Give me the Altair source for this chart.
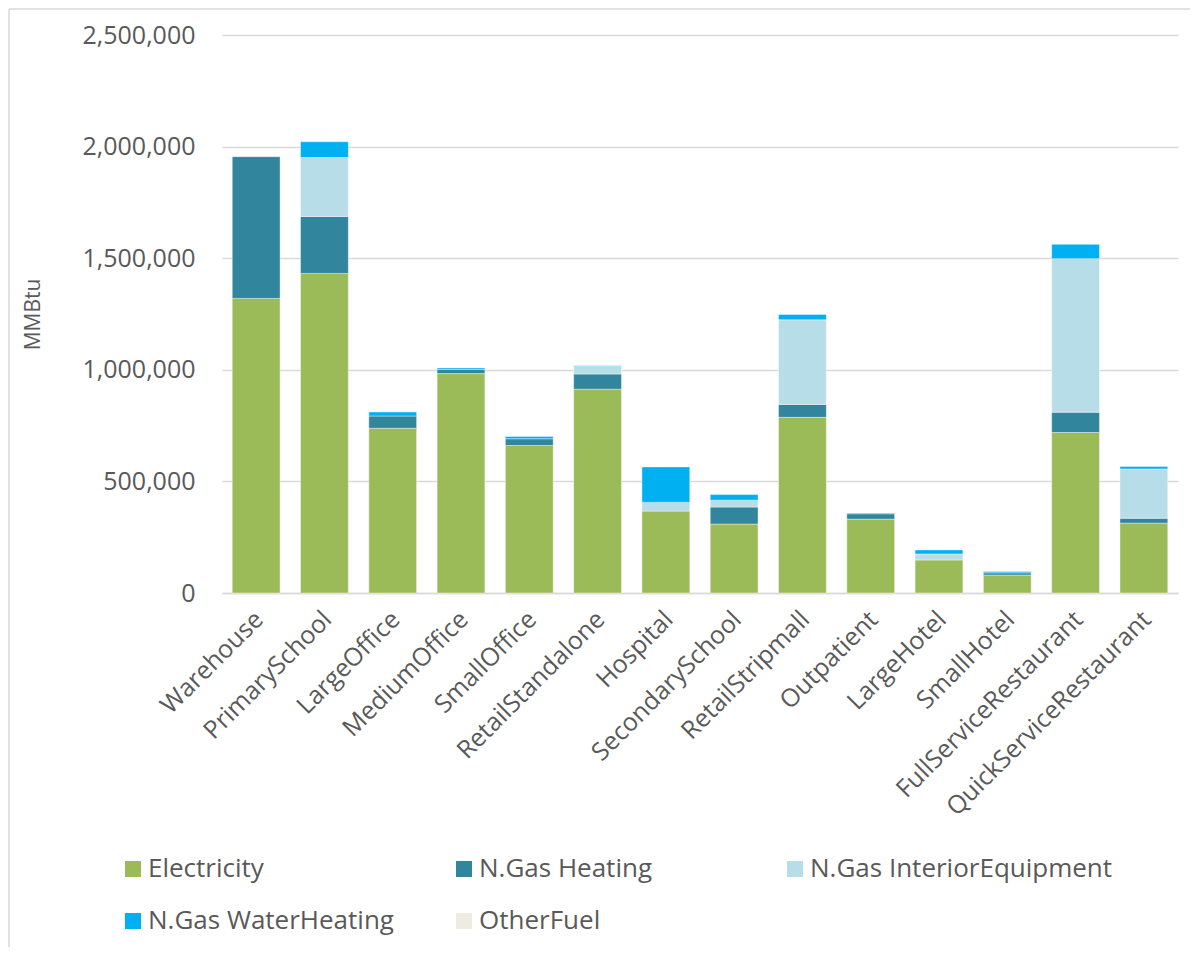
import altair as alt
import pandas as pd

categories = ["Warehouse", "PrimarySchool", "LargeOffice", "MediumOffice", "SmallOffice",
              "RetailStandalone", "Hospital", "SecondarySchool", "RetailStripmall", "Outpatient",
              "LargeHotel", "SmallHotel", "FullServiceRestaurant", "QuickServiceRestaurant"]
series = ["Electricity", "N.Gas Heating", "N.Gas InteriorEquipment", "N.Gas WaterHeating", "OtherFuel"]
colors = ["#9BBB59", "#31859C", "#B7DEE8", "#00B0F0", "#EEECE1"]

electricity = [1320000, 1432000, 738000, 983000, 661000, 913000, 367000, 309000, 787000, 331000, 148000, 80500, 719000, 313000]
gas_heating = [635000, 255000, 55000, 18000, 30000, 68000, 0, 76000, 58000, 24000, 0, 10000, 91000, 22000]
gas_interior = [0, 264000, 0, 0, 0, 34000, 39000, 31000, 379000, 0, 27000, 0, 688000, 221000]
gas_water = [0, 71000, 18000, 7000, 10000, 3000, 159000, 25000, 24000, 3000, 18000, 6000, 64000, 11000]
other_fuel = [0, 0, 0, 0, 0, 0, 0, 0, 0, 0, 0, 0, 0, 0]

y_ticks = [0, 500000, 1000000, 1500000, 2000000, 2500000]

rows = []
for si, (name, vals) in enumerate(zip(series, [electricity, gas_heating, gas_interior, gas_water, other_fuel])):
    for c, v in zip(categories, vals):
        if v > 0:
            rows.append({"Building": c, "Fuel": name, "Value": v, "order": si})
df = pd.DataFrame(rows)

TXT = "#595959"
GRID = "#D9D9D9"
FONT = "Open Sans"

bars = alt.Chart(df).mark_bar(stroke="white", strokeWidth=0.8, strokeOpacity=0.5).encode(
    x=alt.X("Building:N", sort=categories,
            scale=alt.Scale(paddingInner=0.3, paddingOuter=0.15),
            axis=alt.Axis(title=None, labelAngle=-45, labelAlign="right", labelBaseline="middle",
                          labelFontSize=25, labelFont=FONT, labelColor=TXT, labelPadding=22,
                          labelOffset=3, labelLimit=0, ticks=False, domainColor=GRID,
                          domainWidth=1.5, grid=False)),
    y=alt.Y("Value:Q", stack="zero",
            scale=alt.Scale(domain=[0, 2500000], nice=False),
            axis=alt.Axis(title="MMBtu", values=y_ticks, format=",d", ticks=False, domain=False,
                          labelFontSize=25, labelFont=FONT, labelColor=TXT, labelPadding=27,
                          gridColor=GRID, gridWidth=1.5,
                          titleFontSize=21, titleFont=FONT, titleColor=TXT, titleFontWeight="normal",
                          titleAngle=-90, titleX=-189, titleY=279, titleAlign="center",
                          titleBaseline="middle")),
    color=alt.Color("Fuel:N",
                    scale=alt.Scale(domain=series, range=colors),
                    legend=alt.Legend(title=None, orient="none", legendX=-102, legendY=821,
                                      direction="horizontal", columns=3, gridAlign="all",
                                      columnPadding=0, rowPadding=26, symbolType="square",
                                      symbolSize=256, symbolStrokeWidth=0, labelFontSize=26,
                                      labelFont=FONT, labelColor=TXT, labelOffset=2, padding=0,
                                      labelLimit=500)),
    order=alt.Order("order:Q", sort="ascending"),
)

frame_df = pd.DataFrame({"a": [0]})
left_line = alt.Chart(frame_df).mark_rule(color=GRID, strokeWidth=1.5).encode(
    x=alt.value(-213), y=alt.value(-26), y2=alt.value(960))
top_line = alt.Chart(frame_df).mark_rule(color=GRID, strokeWidth=1.5).encode(
    x=alt.value(-213), x2=alt.value(990), y=alt.value(-26))

chart = alt.layer(bars, left_line, top_line).properties(
    width=956, height=558,
    background="white",
    autosize=alt.AutoSizeParams(type="none"),
    padding={"left": 214, "top": 27, "right": 12, "bottom": 354},
).configure_view(stroke=None)

chart.save("out.html", embed_options={"renderer": "svg", "actions": False})
